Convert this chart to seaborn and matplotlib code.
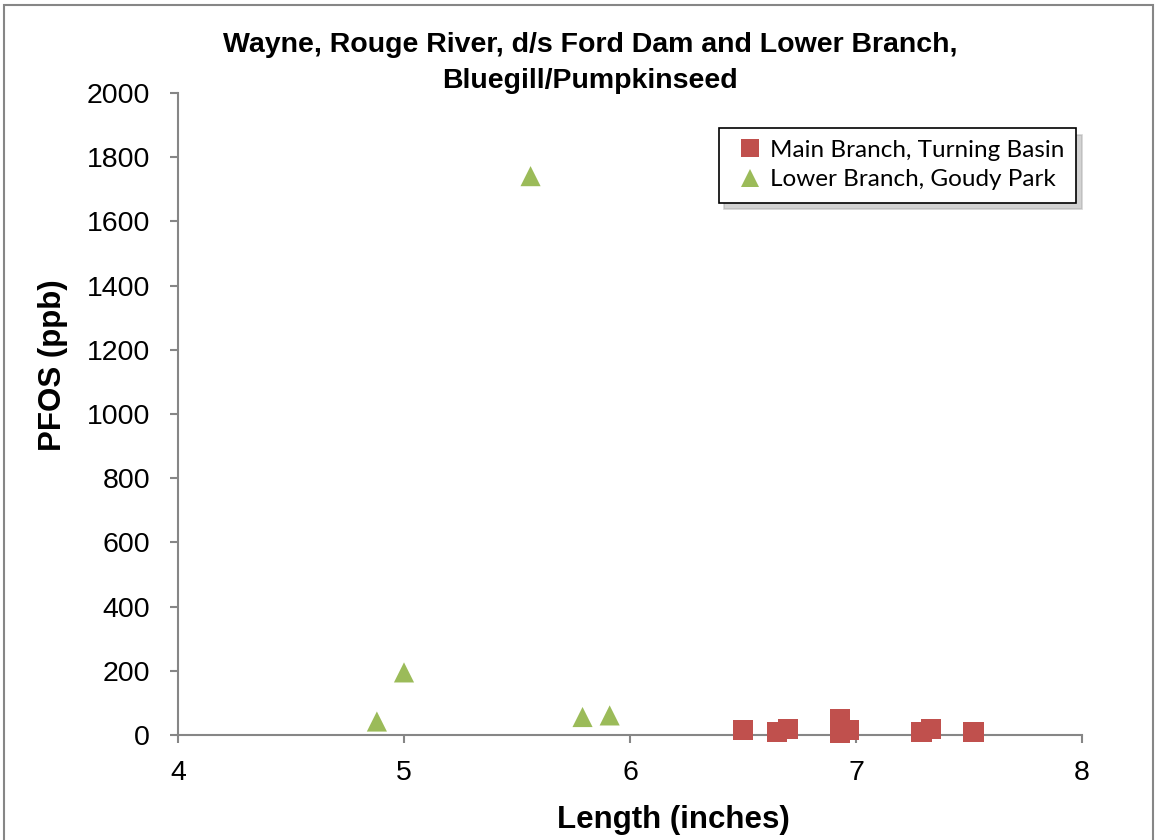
import pandas as pd
import numpy as np
import matplotlib.pyplot as plt
import seaborn as sns
from matplotlib.patches import Rectangle

# ------------------ DATA ------------------
main_len = [6.50, 6.65, 6.70, 6.93, 6.93, 6.97, 7.29, 7.33, 7.52]
main_pfos = [15, 8, 18, 50, 5, 15, 8, 18, 8]

lower_len = [4.88, 5.00, 5.56, 5.79, 5.91]
lower_pfos = [42, 195, 1741, 56, 61]

site_main = "Main Branch, Turning Basin"
site_lower = "Lower Branch, Goudy Park"

data = pd.DataFrame({
    'length': main_len + lower_len,
    'pfos': main_pfos + lower_pfos,
    'site': [site_main] * len(main_len) + [site_lower] * len(lower_len),
})

# ------------------ PLOT ------------------
sns.set_style("white")
plt.rcParams['font.family'] = ['Liberation Sans', 'DejaVu Sans']
plt.rcParams['text.color'] = 'black'
plt.rcParams['xtick.labelcolor'] = 'black'
plt.rcParams['ytick.labelcolor'] = 'black'

fig = plt.figure(figsize=(11.56, 8.4), dpi=100)
ax = fig.add_axes([178 / 1156, 1 - 735 / 840, 904 / 1156, 642 / 840])

sns.scatterplot(data=data, x='length', y='pfos', hue='site', style='site',
                palette={site_main: '#C0504D', site_lower: '#9BBB59'},
                markers={site_main: 's', site_lower: '^'},
                s=210, linewidth=0, ax=ax, clip_on=False, zorder=3)

ax.set_xlim(4, 8)
ax.set_ylim(0, 2000)
ax.set_xticks(np.arange(4, 9, 1))
ax.set_yticks(np.arange(0, 2001, 200))
ax.tick_params(axis='both', labelsize=20.5, direction='out', length=6,
               width=1.5, color='#868686', left=True, bottom=True)
ax.tick_params(axis='y', pad=14)
ax.tick_params(axis='x', pad=12)
for side in ['top', 'right']:
    ax.spines[side].set_visible(False)
for side in ['left', 'bottom']:
    ax.spines[side].set_color('#868686')
    ax.spines[side].set_linewidth(1.5)
ax.set_xlabel('')
ax.set_ylabel('')

# legend with shadow, like the Excel original
handles, labels = ax.get_legend_handles_labels()
leg = ax.legend(handles, labels, loc='upper left',
                bbox_to_anchor=(0.598, 0.946), borderaxespad=0,
                frameon=True, shadow={'ox': 4, 'oy': -5, 'color': '#a8a8a8'},
                fancybox=False, edgecolor='black',
                framealpha=1, prop={'family': 'Lato', 'size': 17.5},
                handlelength=1.6, handletextpad=0.0, borderpad=0.5,
                labelspacing=0.35, markerscale=0.85)
leg.get_frame().set_linewidth(1.2)

# titles and labels placed like the original
fig.text(590 / 1156, 1 - 63 / 840,
         'Wayne, Rouge River, d/s Ford Dam and Lower Branch,\nBluegill/Pumpkinseed',
         ha='center', va='center', fontsize=20.5, fontweight='bold',
         linespacing=1.45)
fig.text(53 / 1156, 1 - 365 / 840, 'PFOS (ppb)', rotation=90,
         ha='center', va='center', fontsize=22.5, fontweight='bold')
fig.text(673 / 1156, 1 - 820 / 840, 'Length (inches)',
         ha='center', va='center', fontsize=22.5, fontweight='bold')

# outer chart border
fig.patches.append(Rectangle((4 / 1156, -0.05), 1149 / 1156, 1.05 - 5 / 840,
                             transform=fig.transFigure, fill=False,
                             edgecolor='#868686', linewidth=1.5))

plt.savefig('out.png', dpi=100)
